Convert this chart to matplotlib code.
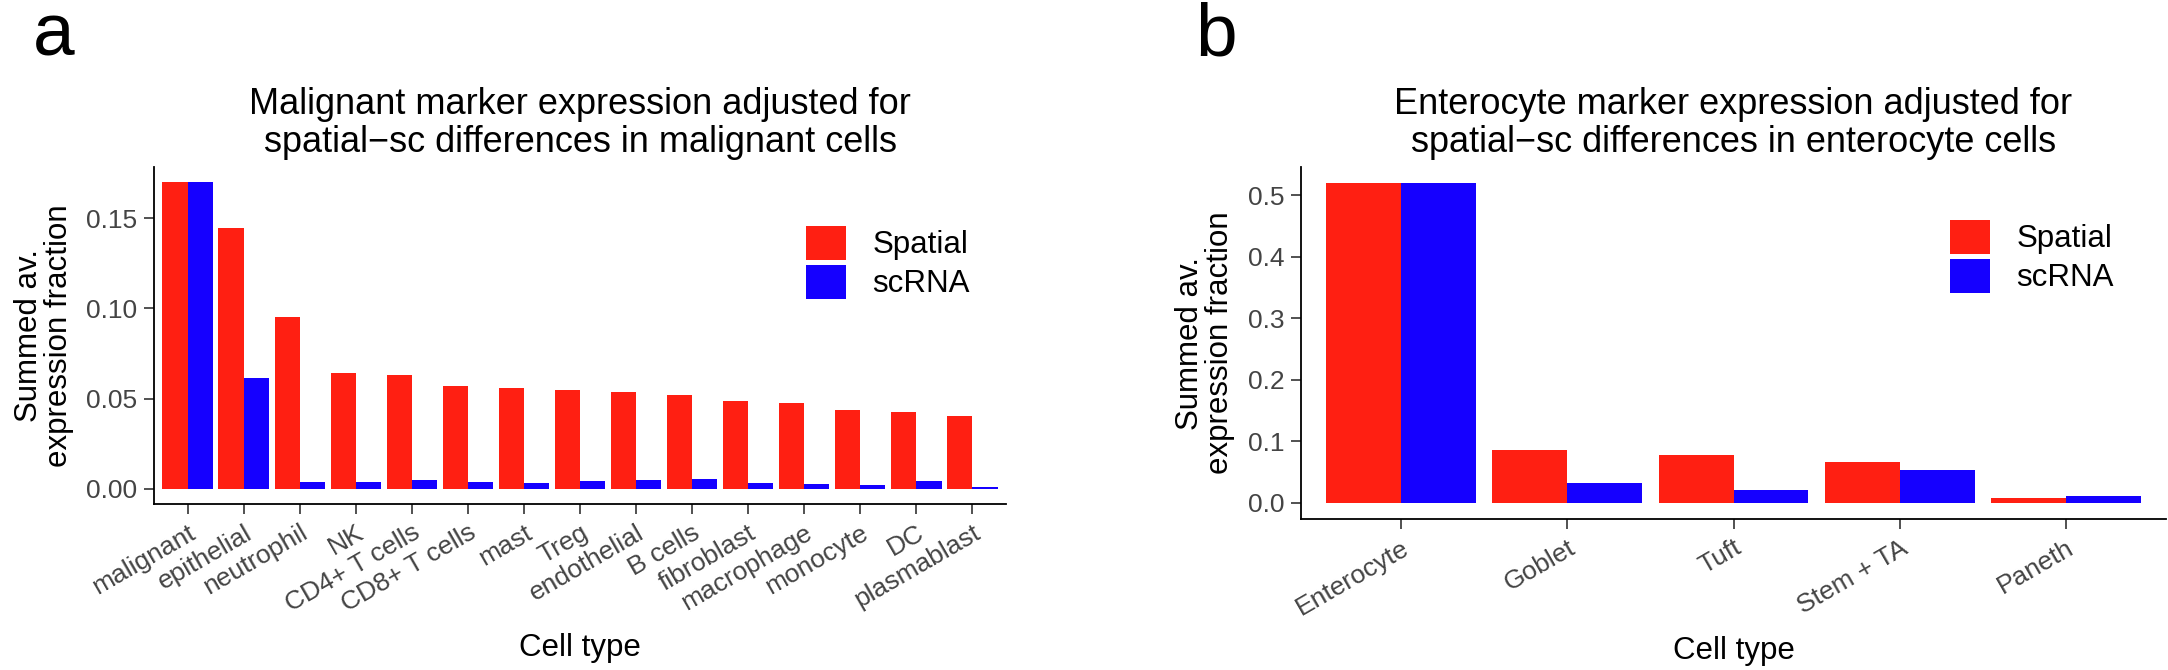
import numpy as np
import matplotlib
matplotlib.use("Agg")
import matplotlib.pyplot as plt

plt.rcParams['font.family'] = ['Liberation Sans', 'DejaVu Sans']

# panel a data
cells_a = ["malignant", "epithelial", "neutrophil", "NK", "CD4+ T cells",
           "CD8+ T cells", "mast", "Treg", "endothelial", "B cells",
           "fibroblast", "macrophage", "monocyte", "DC", "plasmablast"]
spatial_a = [0.170, 0.1445, 0.0951, 0.0644, 0.0629, 0.0572, 0.0561, 0.0548,
             0.0537, 0.0520, 0.0487, 0.0474, 0.0437, 0.0428, 0.0404]
scrna_a = [0.170, 0.0613, 0.0037, 0.0037, 0.0046, 0.0039, 0.0033, 0.0041,
           0.0048, 0.0052, 0.0031, 0.0026, 0.0022, 0.0042, 0.0011]

# panel b data
cells_b = ["Enterocyte", "Goblet", "Tuft", "Stem + TA", "Paneth"]
spatial_b = [0.520, 0.086, 0.0785, 0.067, 0.0086]
scrna_b = [0.520, 0.033, 0.0216, 0.054, 0.0108]

yticks_a = [0.0, 0.05, 0.10, 0.15]
yticks_b = [0.0, 0.1, 0.2, 0.3, 0.4, 0.5]

RED = '#FF1F12'
BLUE = '#1500FF'
W, H = 2168, 670


def draw_panel(ax, cells, spatial, scrna, yticks, fmt, title, leg_xy):
    x = np.arange(len(cells))
    ax.bar(x - 0.225, spatial, width=0.45, color=RED, label='Spatial')
    ax.bar(x + 0.225, scrna, width=0.45, color=BLUE, label='scRNA')
    top = max(max(spatial), max(scrna))
    ax.set_xlim(-0.6, len(cells) - 0.4)
    ax.set_ylim(-0.05 * top, 1.05 * top)
    ax.set_xticks(x)
    ax.set_xticklabels(cells, rotation=30, ha='right', va='top',
                       rotation_mode='anchor', fontsize=19, color='#444444')
    ax.set_yticks(yticks)
    ax.set_yticklabels([fmt % v for v in yticks], fontsize=19, color='#444444')
    ax.tick_params(length=7, width=1.2, color='#333333', pad=5)
    for s in ['top', 'right']:
        ax.spines[s].set_visible(False)
    for s in ['left', 'bottom']:
        ax.spines[s].set_linewidth(1.3)
    ax.set_xlabel('Cell type', fontsize=22.5, labelpad=12)
    ax.set_ylabel('Summed av.\nexpression fraction', fontsize=22.5, labelpad=9,
                  linespacing=1.0)
    ax.set_title(title, fontsize=26, pad=11, linespacing=1.1)
    ax.legend(loc='upper left', bbox_to_anchor=leg_xy, frameon=False,
              fontsize=22.5, handlelength=1.28, handleheight=1.28,
              handletextpad=0.85, labelspacing=0.15, borderpad=0,
              borderaxespad=0)


fig = plt.figure(figsize=(W / 100, H / 100), dpi=100)
ax_a = fig.add_axes([154 / W, (H - 504) / H, 852 / W, 337 / H])
ax_b = fig.add_axes([1301 / W, (H - 519) / H, 865 / W, 352 / H])

draw_panel(ax_a, cells_a, spatial_a, scrna_a, yticks_a, '%.2f',
           'Malignant marker expression adjusted for\n'
           'spatial\u2212sc differences in malignant cells', (0.765, 0.825))
draw_panel(ax_b, cells_b, spatial_b, scrna_b, yticks_b, '%.1f',
           'Enterocyte marker expression adjusted for\n'
           'spatial\u2212sc differences in enterocyte cells', (0.750, 0.849))

fig.text(33 / W, 1 - 55 / H, 'a', fontsize=54, va='baseline')
fig.text(1195 / W, 1 - 55 / H, 'b', fontsize=54, va='baseline')

fig.savefig('out.png', dpi=100, facecolor='white')
